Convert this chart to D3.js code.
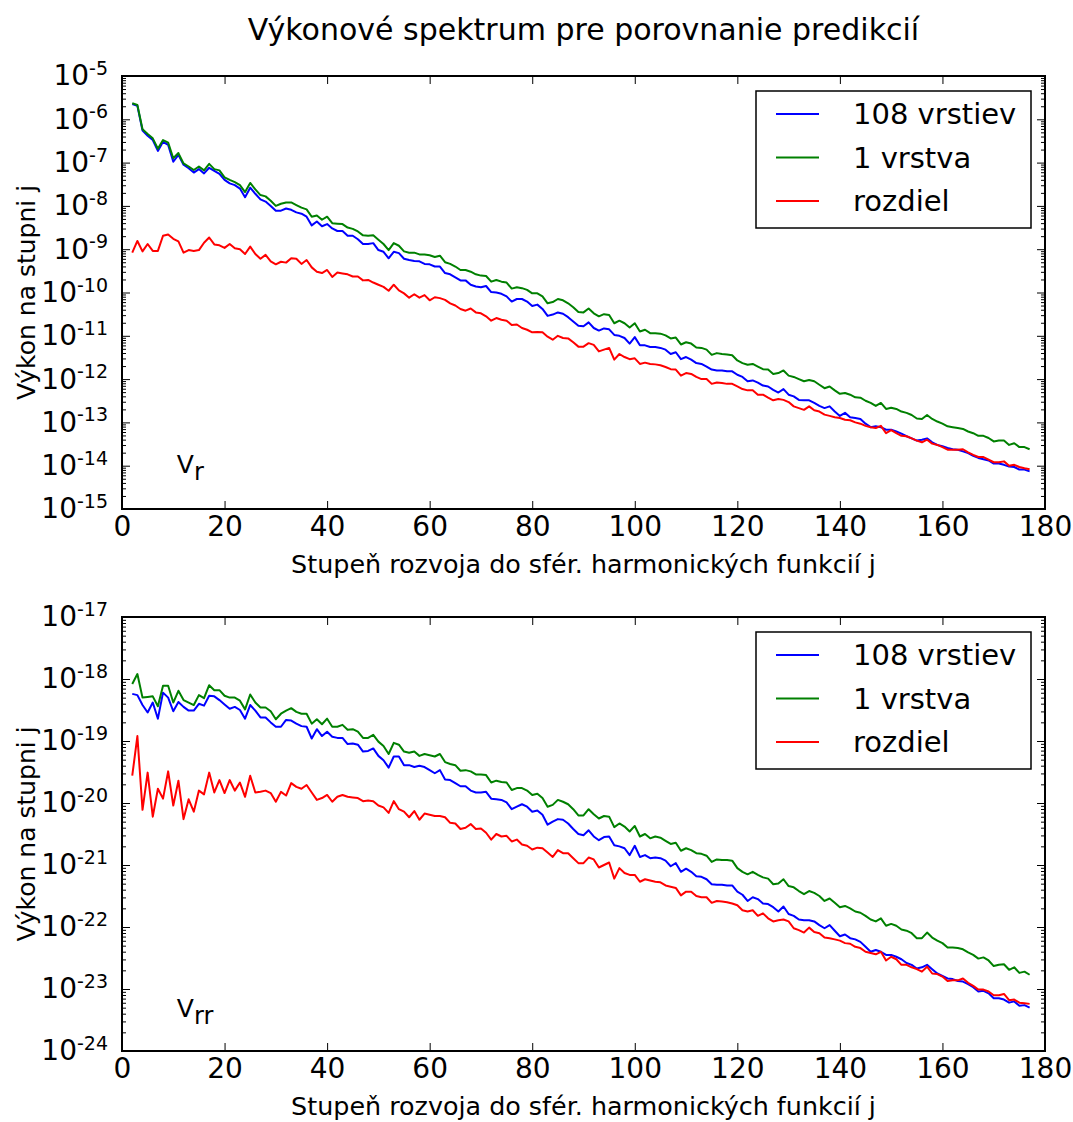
<!DOCTYPE html>
<html>
<head>
<meta charset="utf-8">
<script src="https://cdnjs.cloudflare.com/ajax/libs/d3/7.8.5/d3.min.js"></script>
<style>
    body { margin: 0; background: #fff; }
    svg { font-family: "DejaVu Sans", sans-serif; }
    .line { fill: none; stroke-width: 2; stroke-linejoin: round; }
    .tick line { stroke: #000; }
</style>
</head>
<body>
<svg id="chart"></svg>
<script>
// degree j of the spherical harmonic expansion (2..177)
var degrees = d3.range(2, 178);

var titleText = "Výkonové spektrum pre porovnanie predikcií";
var xLabelText = "Stupeň rozvoja do sfér. harmonických funkcií j";
var yLabelText = "Výkon na stupni j";
var seriesNames = ["108 vrstiev", "1 vrstva", "rozdiel"];
var strokes = ["#0000ff", "#008000", "#ff0000"];
var xTicks = [0, 20, 40, 60, 80, 100, 120, 140, 160, 180];

// values, stored as log10 of the power
// V_r panel
var vrBlue = [
    -5.65, -5.69, -6.26, -6.38, -6.48, -6.73, -6.52, -6.59, -6.98, -6.82,
    -7.05, -7.13, -7.23, -7.15, -7.25, -7.12, -7.19, -7.26, -7.40, -7.48,
    -7.52, -7.60, -7.80, -7.58, -7.72, -7.85, -7.90, -8.00, -8.11, -8.11,
    -8.06, -8.09, -8.15, -8.18, -8.25, -8.45, -8.36, -8.47, -8.42, -8.52,
    -8.58, -8.58, -8.69, -8.69, -8.77, -8.88, -8.88, -8.86, -9.02, -9.06,
    -9.21, -9.06, -9.09, -9.22, -9.25, -9.27, -9.28, -9.34, -9.35, -9.40,
    -9.40, -9.55, -9.58, -9.65, -9.72, -9.72, -9.82, -9.86, -9.88, -9.85,
    -9.99, -10.00, -10.03, -10.09, -10.21, -10.15, -10.15, -10.21, -10.31, -10.28,
    -10.38, -10.54, -10.51, -10.46, -10.49, -10.57, -10.67, -10.77, -10.78, -10.69,
    -10.82, -10.88, -10.83, -10.85, -10.98, -11.00, -11.05, -11.18, -11.03, -11.22,
    -11.22, -11.26, -11.26, -11.28, -11.32, -11.42, -11.38, -11.54, -11.49, -11.55,
    -11.63, -11.65, -11.71, -11.78, -11.80, -11.80, -11.82, -11.82, -11.90, -11.95,
    -12.05, -12.03, -12.08, -12.15, -12.17, -12.25, -12.31, -12.23, -12.36, -12.40,
    -12.48, -12.49, -12.49, -12.55, -12.62, -12.67, -12.63, -12.75, -12.85, -12.78,
    -12.88, -12.90, -12.92, -13.03, -13.11, -13.09, -13.11, -13.17, -13.17, -13.21,
    -13.26, -13.32, -13.37, -13.42, -13.40, -13.37, -13.46, -13.52, -13.55, -13.59,
    -13.62, -13.63, -13.67, -13.71, -13.77, -13.82, -13.85, -13.88, -13.95, -13.95,
    -13.98, -14.02, -14.03, -14.09, -14.09, -14.13
];
var vrGreen = [
    -5.63, -5.67, -6.23, -6.34, -6.44, -6.68, -6.48, -6.54, -6.90, -6.78,
    -7.02, -7.09, -7.17, -7.09, -7.18, -7.03, -7.15, -7.18, -7.34, -7.40,
    -7.45, -7.52, -7.68, -7.47, -7.62, -7.75, -7.78, -7.88, -8.00, -7.95,
    -7.92, -7.92, -7.98, -8.04, -8.08, -8.25, -8.22, -8.32, -8.25, -8.40,
    -8.41, -8.42, -8.50, -8.53, -8.59, -8.68, -8.69, -8.68, -8.78, -8.88,
    -9.02, -8.86, -8.92, -9.05, -9.08, -9.08, -9.12, -9.12, -9.14, -9.18,
    -9.15, -9.30, -9.34, -9.40, -9.48, -9.48, -9.52, -9.58, -9.61, -9.62,
    -9.75, -9.71, -9.75, -9.77, -9.91, -9.88, -9.90, -9.94, -10.02, -10.02,
    -10.09, -10.25, -10.22, -10.15, -10.18, -10.25, -10.34, -10.45, -10.46, -10.37,
    -10.48, -10.55, -10.50, -10.52, -10.71, -10.65, -10.71, -10.81, -10.71, -10.90,
    -10.86, -10.94, -10.94, -10.95, -10.99, -11.06, -11.04, -11.20, -11.15, -11.18,
    -11.27, -11.28, -11.32, -11.44, -11.40, -11.42, -11.43, -11.45, -11.57, -11.63,
    -11.67, -11.65, -11.71, -11.77, -11.78, -11.88, -11.86, -11.80, -11.92, -11.95,
    -12.00, -12.05, -12.02, -12.05, -12.13, -12.21, -12.17, -12.26, -12.34, -12.32,
    -12.36, -12.42, -12.43, -12.50, -12.55, -12.62, -12.55, -12.69, -12.66, -12.69,
    -12.75, -12.78, -12.83, -12.91, -12.92, -12.83, -12.92, -12.98, -13.03, -13.09,
    -13.11, -13.13, -13.15, -13.21, -13.25, -13.31, -13.31, -13.36, -13.44, -13.42,
    -13.42, -13.52, -13.48, -13.57, -13.57, -13.62
];
var vrRed = [
    -9.08, -8.81, -9.05, -8.88, -9.04, -9.04, -8.69, -8.66, -8.76, -8.82,
    -9.08, -9.02, -9.04, -9.02, -8.85, -8.73, -8.89, -8.91, -8.97, -8.88,
    -8.98, -9.00, -9.11, -8.94, -9.11, -9.22, -9.13, -9.28, -9.35, -9.29,
    -9.31, -9.21, -9.22, -9.34, -9.25, -9.42, -9.52, -9.55, -9.48, -9.64,
    -9.54, -9.56, -9.58, -9.63, -9.63, -9.72, -9.71, -9.77, -9.82, -9.87,
    -9.96, -9.82, -9.95, -10.02, -10.12, -10.04, -10.12, -10.06, -10.18, -10.11,
    -10.13, -10.17, -10.25, -10.30, -10.38, -10.42, -10.37, -10.46, -10.48, -10.55,
    -10.65, -10.59, -10.63, -10.65, -10.75, -10.74, -10.82, -10.86, -10.92, -10.91,
    -10.92, -11.02, -11.09, -11.00, -11.05, -11.06, -11.15, -11.25, -11.25, -11.17,
    -11.21, -11.36, -11.32, -11.28, -11.55, -11.42, -11.49, -11.54, -11.52, -11.65,
    -11.62, -11.65, -11.66, -11.68, -11.72, -11.77, -11.78, -11.92, -11.86, -11.88,
    -11.95, -12.00, -12.00, -12.11, -12.08, -12.09, -12.11, -12.11, -12.17, -12.23,
    -12.26, -12.26, -12.36, -12.36, -12.43, -12.49, -12.46, -12.48, -12.53, -12.63,
    -12.67, -12.71, -12.63, -12.72, -12.75, -12.82, -12.85, -12.88, -12.90, -12.94,
    -12.95, -13.00, -13.03, -13.08, -13.11, -13.13, -13.08, -13.25, -13.18, -13.25,
    -13.31, -13.32, -13.37, -13.42, -13.46, -13.40, -13.49, -13.52, -13.57, -13.63,
    -13.63, -13.63, -13.62, -13.69, -13.75, -13.80, -13.80, -13.86, -13.92, -13.92,
    -13.90, -14.00, -13.98, -14.03, -14.06, -14.08
];

// V_rr panel
var vrrBlue = [
    -18.24, -18.26, -18.42, -18.54, -18.38, -18.64, -18.22, -18.30, -18.52, -18.37,
    -18.45, -18.51, -18.51, -18.40, -18.43, -18.27, -18.28, -18.34, -18.41, -18.48,
    -18.45, -18.50, -18.64, -18.42, -18.51, -18.62, -18.62, -18.70, -18.77, -18.77,
    -18.66, -18.67, -18.72, -18.76, -18.77, -18.96, -18.81, -18.92, -18.85, -18.93,
    -18.95, -18.95, -19.05, -19.04, -19.06, -19.17, -19.16, -19.12, -19.24, -19.31,
    -19.43, -19.25, -19.25, -19.39, -19.39, -19.42, -19.40, -19.42, -19.47, -19.52,
    -19.47, -19.62, -19.63, -19.68, -19.73, -19.73, -19.80, -19.83, -19.83, -19.82,
    -19.93, -19.94, -19.95, -19.99, -20.10, -20.06, -20.02, -20.06, -20.14, -20.12,
    -20.19, -20.35, -20.30, -20.26, -20.27, -20.33, -20.42, -20.50, -20.52, -20.44,
    -20.54, -20.60, -20.55, -20.54, -20.68, -20.70, -20.73, -20.84, -20.69, -20.87,
    -20.84, -20.89, -20.88, -20.89, -20.93, -21.02, -20.97, -21.11, -21.06, -21.11,
    -21.18, -21.19, -21.23, -21.31, -21.32, -21.32, -21.33, -21.33, -21.43, -21.48,
    -21.58, -21.52, -21.55, -21.62, -21.63, -21.68, -21.75, -21.67, -21.79, -21.82,
    -21.88, -21.89, -21.89, -21.91, -21.97, -22.02, -21.97, -22.06, -22.15, -22.12,
    -22.18, -22.20, -22.24, -22.32, -22.40, -22.37, -22.40, -22.45, -22.45, -22.48,
    -22.52, -22.58, -22.61, -22.67, -22.65, -22.61, -22.68, -22.75, -22.79, -22.83,
    -22.84, -22.87, -22.88, -22.92, -22.97, -23.04, -23.03, -23.07, -23.15, -23.15,
    -23.17, -23.22, -23.20, -23.27, -23.26, -23.30
];
var vrrGreen = [
    -18.08, -17.92, -18.30, -18.29, -18.28, -18.44, -18.11, -18.11, -18.38, -18.19,
    -18.34, -18.38, -18.42, -18.26, -18.31, -18.10, -18.18, -18.18, -18.27, -18.30,
    -18.30, -18.35, -18.49, -18.25, -18.38, -18.46, -18.46, -18.52, -18.65, -18.56,
    -18.51, -18.47, -18.53, -18.56, -18.56, -18.72, -18.65, -18.73, -18.64, -18.77,
    -18.77, -18.74, -18.82, -18.81, -18.85, -18.95, -18.95, -18.90, -19.01, -19.08,
    -19.21, -19.03, -19.06, -19.17, -19.19, -19.17, -19.24, -19.21, -19.23, -19.25,
    -19.21, -19.34, -19.37, -19.39, -19.48, -19.47, -19.49, -19.54, -19.54, -19.55,
    -19.67, -19.64, -19.66, -19.67, -19.79, -19.76, -19.76, -19.80, -19.87, -19.85,
    -19.92, -20.06, -20.03, -19.95, -19.98, -20.02, -20.10, -20.20, -20.20, -20.10,
    -20.18, -20.25, -20.21, -20.22, -20.39, -20.33, -20.38, -20.46, -20.37, -20.54,
    -20.50, -20.57, -20.54, -20.56, -20.61, -20.66, -20.64, -20.77, -20.73, -20.76,
    -20.81, -20.82, -20.85, -20.95, -20.91, -20.92, -20.92, -20.93, -21.05, -21.11,
    -21.15, -21.11, -21.16, -21.20, -21.22, -21.31, -21.30, -21.23, -21.34, -21.36,
    -21.42, -21.47, -21.42, -21.45, -21.50, -21.58, -21.54, -21.61, -21.68, -21.66,
    -21.70, -21.75, -21.77, -21.82, -21.88, -21.91, -21.86, -21.98, -21.95, -21.98,
    -22.04, -22.06, -22.10, -22.18, -22.18, -22.09, -22.17, -22.22, -22.26, -22.33,
    -22.33, -22.34, -22.36, -22.41, -22.45, -22.51, -22.49, -22.54, -22.63, -22.61,
    -22.60, -22.69, -22.65, -22.74, -22.72, -22.77
];
var vrrRed = [
    -19.56, -18.92, -20.11, -19.51, -20.22, -19.77, -19.93, -19.49, -20.04, -19.64,
    -20.26, -19.94, -20.14, -19.80, -19.86, -19.51, -19.83, -19.63, -19.84, -19.63,
    -19.80, -19.67, -19.90, -19.56, -19.83, -19.82, -19.80, -19.84, -19.98, -19.82,
    -19.88, -19.68, -19.74, -19.77, -19.71, -19.83, -19.95, -19.92, -19.87, -19.98,
    -19.90, -19.87, -19.90, -19.91, -19.92, -19.97, -19.96, -19.97, -20.04, -20.07,
    -20.16, -19.97, -20.10, -20.14, -20.23, -20.13, -20.27, -20.17, -20.19, -20.21,
    -20.21, -20.23, -20.32, -20.33, -20.42, -20.40, -20.34, -20.42, -20.41, -20.48,
    -20.59, -20.50, -20.54, -20.53, -20.62, -20.59, -20.67, -20.69, -20.75, -20.72,
    -20.73, -20.80, -20.87, -20.76, -20.81, -20.81, -20.89, -20.97, -20.97, -20.88,
    -20.91, -21.04, -21.00, -20.96, -21.22, -21.05, -21.13, -21.16, -21.16, -21.27,
    -21.23, -21.25, -21.27, -21.28, -21.33, -21.35, -21.37, -21.49, -21.43, -21.43,
    -21.50, -21.52, -21.52, -21.61, -21.58, -21.59, -21.60, -21.62, -21.65, -21.73,
    -21.75, -21.73, -21.82, -21.78, -21.86, -21.91, -21.89, -21.88, -21.91, -22.02,
    -22.05, -22.09, -22.01, -22.08, -22.10, -22.17, -22.18, -22.20, -22.22, -22.26,
    -22.27, -22.32, -22.34, -22.40, -22.42, -22.44, -22.40, -22.54, -22.48, -22.52,
    -22.61, -22.61, -22.65, -22.68, -22.72, -22.64, -22.75, -22.76, -22.80, -22.87,
    -22.86, -22.86, -22.83, -22.90, -22.95, -23.01, -23.01, -23.04, -23.10, -23.10,
    -23.08, -23.18, -23.17, -23.22, -23.23, -23.24
];

var width = 1073, height = 1122;
var plotLeft = 122, plotWidth = 923;

var svg = d3.select("#chart")
    .attr("width", width)
    .attr("height", height);

svg.append("text")
    .attr("x", plotLeft + plotWidth / 2)
    .attr("y", 40)
    .attr("text-anchor", "middle")
    .style("font-size", "30px")
    .text(titleText);

var x = d3.scaleLinear().domain([0, 180]).range([0, plotWidth]);

function drawPanel(top, h, expMin, expMax, series, sub, note) {
    var g = svg.append("g")
        .attr("transform", "translate(" + plotLeft + "," + top + ")");

    var y = d3.scaleLog()
        .domain([Math.pow(10, expMin), Math.pow(10, expMax)])
        .range([h, 0]);

    var majors = d3.range(expMin, expMax + 1).map(function (e) { return Math.pow(10, e); });
    var minors = [];
    for (var e = expMin; e < expMax; e++) {
        for (var k = 2; k < 10; k++) minors.push(k * Math.pow(10, e));
    }

    // lines
    series.forEach(function (s, i) {
        var line = d3.line()
            .x(function (d, n) { return x(degrees[n]); })
            .y(function (d) { return y(Math.pow(10, d)); });
        g.append("path")
            .datum(s)
            .attr("class", "line")
            .style("stroke", strokes[i])
            .attr("d", line);
    });

    // x axes (ticks inside)
    var xb = g.append("g")
        .attr("transform", "translate(0," + h + ")")
        .call(d3.axisBottom(x).tickValues(xTicks).tickSize(-8).tickSizeOuter(0).tickPadding(7));
    xb.selectAll("text").attr("font-size", 28).attr("font-family", "DejaVu Sans").attr("fill", "#000");
    g.append("g")
        .call(d3.axisTop(x).tickValues(xTicks).tickSize(-8).tickSizeOuter(0).tickFormat(""));

    // y axes, decades with superscript labels
    var yl = g.append("g")
        .call(d3.axisLeft(y).tickValues(majors).tickSize(-8).tickSizeOuter(0).tickPadding(14).tickFormat(""));
    yl.selectAll(".tick text").each(function (d) {
        var t = d3.select(this)
            .attr("font-size", 28)
            .attr("font-family", "DejaVu Sans")
            .attr("fill", "#000");
        t.append("tspan").text("10");
        t.append("tspan")
            .attr("dy", "-0.55em")
            .attr("font-size", 19)
            .text(String(Math.round(Math.log10(d))));
    });
    g.append("g")
        .call(d3.axisLeft(y).tickValues(minors).tickSize(-4).tickSizeOuter(0).tickFormat(""));
    g.append("g")
        .attr("transform", "translate(" + plotWidth + ",0)")
        .call(d3.axisRight(y).tickValues(majors).tickSize(-8).tickSizeOuter(0).tickFormat(""));
    g.append("g")
        .attr("transform", "translate(" + plotWidth + ",0)")
        .call(d3.axisRight(y).tickValues(minors).tickSize(-4).tickSizeOuter(0).tickFormat(""));
    g.selectAll(".domain").remove();

    // frame
    g.append("rect")
        .attr("width", plotWidth)
        .attr("height", h)
        .attr("fill", "none")
        .attr("stroke", "#000")
        .attr("stroke-width", 2);

    // V_r / V_rr label
    var vt = g.append("text")
        .attr("x", x(note[0]))
        .attr("y", y(Math.pow(10, note[1])))
        .style("font-size", "25px");
    vt.append("tspan").text("V");
    vt.append("tspan").attr("dy", "0.3em").style("font-size", "24px").text(sub);

    // legend
    var lg = g.append("g")
        .attr("transform", "translate(" + (plotWidth - 14 - 275) + ",15)");
    lg.append("rect")
        .attr("width", 275)
        .attr("height", 137)
        .attr("fill", "#fff")
        .attr("stroke", "#000")
        .attr("stroke-width", 1.5);
    seriesNames.forEach(function (name, i) {
        var ly = 23 + i * 43.5;
        lg.append("line")
            .attr("x1", 20).attr("x2", 63)
            .attr("y1", ly).attr("y2", ly)
            .style("stroke", strokes[i])
            .style("stroke-width", 2);
        lg.append("text")
            .attr("x", 97)
            .attr("y", ly)
            .attr("dy", "0.36em")
            .style("font-size", "29px")
            .text(name);
    });

    // axis labels
    svg.append("text")
        .attr("x", plotLeft + plotWidth / 2)
        .attr("y", top + h + 64)
        .attr("text-anchor", "middle")
        .style("font-size", "25.4px")
        .text(xLabelText);
    svg.append("text")
        .attr("transform", "translate(35," + (top + h / 2) + ") rotate(-90)")
        .attr("text-anchor", "middle")
        .style("font-size", "25px")
        .text(yLabelText);
}

drawPanel(76, 433, -15, -5, [vrBlue, vrGreen, vrRed], "r", [10.7, -14.17]);
drawPanel(617, 434, -24, -17, [vrrBlue, vrrGreen, vrrRed], "rr", [10.7, -23.45]);
</script>
</body>
</html>
